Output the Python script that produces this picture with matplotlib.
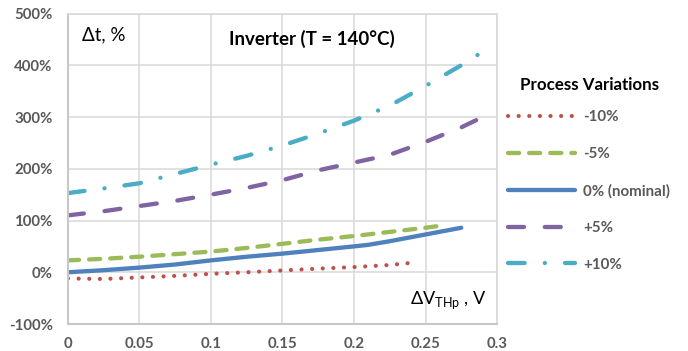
import matplotlib
matplotlib.use("Agg")
import matplotlib.pyplot as plt
from matplotlib.ticker import FuncFormatter

plt.rcParams['font.family'] = ['Lato', 'DejaVu Sans']
plt.rcParams['mathtext.fontset'] = 'custom'
plt.rcParams['mathtext.rm'] = 'Lato'
plt.rcParams['lines.scale_dashes'] = False

# Data (percent vs dVTHp in V)
x_m10 = [0, 0.025, 0.05, 0.075, 0.1, 0.125, 0.15, 0.175, 0.2, 0.225, 0.243]
y_m10 = [-12, -13, -10, -7, -3, 0, 3.5, 7, 10, 14, 19]

x_m5 = [0, 0.025, 0.05, 0.075, 0.1, 0.125, 0.15, 0.175, 0.2, 0.225, 0.25, 0.258]
y_m5 = [23, 26, 30, 35, 40, 47, 55, 63, 70, 78, 86, 89]

x_0 = [0, 0.025, 0.05, 0.075, 0.1, 0.125, 0.15, 0.175, 0.2, 0.21, 0.225, 0.25, 0.275]
y_0 = [0, 4, 9, 15, 23, 30, 36, 43, 50, 53, 60, 73, 86]

x_p5 = [0, 0.025, 0.05, 0.075, 0.1, 0.125, 0.15, 0.175, 0.2, 0.225, 0.25, 0.275, 0.287]
y_p5 = [110, 118, 128, 138, 150, 163, 178, 197, 212, 227, 252, 280, 296]

x_p10 = [0, 0.025, 0.05, 0.075, 0.1, 0.125, 0.15, 0.175, 0.2, 0.225, 0.25, 0.275, 0.291]
y_p10 = [153, 162, 172, 190, 208, 225, 245, 268, 293, 322, 360, 400, 428]

labels = ['-10%', '-5%', '0% (nominal)', '+5%', '+10%']
colors = ['#C0504D', '#9BBB59', '#4F81BD', '#8064A2', '#4BACC6']

xticks = [0, 0.05, 0.1, 0.15, 0.2, 0.25, 0.3]
yticks = [-100, 0, 100, 200, 300, 400, 500]

fig = plt.figure(figsize=(6.88, 3.51), dpi=100)
ax = fig.add_axes([0.0988, 0.0769, 0.6236, 0.8846])

ax.plot(x_m10, y_m10, color=colors[0], lw=3.0, linestyle=(0, (0.05, 7.6)),
        dash_capstyle='round', solid_capstyle='round', label=labels[0])
ax.plot(x_m5, y_m5, color=colors[1], lw=3.1, linestyle=(0, (8.0, 7.2)),
        dash_capstyle='round', label=labels[1])
ax.plot(x_0, y_0, color=colors[2], lw=3.1, linestyle='-',
        solid_capstyle='round', solid_joinstyle='round', label=labels[2])
ax.plot(x_p5, y_p5, color=colors[3], lw=3.1, linestyle=(0, (11.5, 15.0)),
        dash_capstyle='round', label=labels[3])
ax.plot(x_p10, y_p10, color=colors[4], lw=3.1, linestyle=(0, (12.0, 14.5, 0.05, 14.5)),
        dash_capstyle='round', label=labels[4])

ax.set_xlim(0, 0.3)
ax.set_ylim(-100, 500)
ax.set_xticks(xticks)
ax.set_yticks(yticks)
ax.xaxis.set_major_formatter(FuncFormatter(lambda v, p: f"{v:g}"))
ax.yaxis.set_major_formatter(FuncFormatter(lambda v, p: f"{v:.0f}%"))
ax.grid(True, color='#d9d9d9', lw=1.1)
ax.set_axisbelow(True)
for s in ['top', 'right']:
    ax.spines[s].set_color('#d9d9d9')
    ax.spines[s].set_linewidth(1.1)
for s in ['left', 'bottom']:
    ax.spines[s].set_color('#c8c8c8')
    ax.spines[s].set_linewidth(1.5)
ax.tick_params(length=0, labelsize=10.8, labelcolor='#595959')
ax.tick_params(axis='y', pad=11)
ax.tick_params(axis='x', pad=9)
for t in ax.get_xticklabels() + ax.get_yticklabels():
    t.set_fontweight('bold')

ax.text(0.033, 0.93, 'Δt, %', transform=ax.transAxes, fontsize=13.5,
        ha='left', va='center', color='black')
ax.text(0.569, 0.918, 'Inverter (T = 140°C)', transform=ax.transAxes, fontsize=13.5,
        fontweight='bold', ha='center', va='center', color='black')
ax.text(0.797, 0.077, 'ΔV$_{\\rm THp}$ , V', transform=ax.transAxes, fontsize=13,
        ha='left', va='center', color='black')

leg = ax.legend(loc='upper left', bbox_to_anchor=(1.012, 0.815), frameon=False,
                title='Process Variations', fontsize=10.9, handlelength=4.4,
                handletextpad=0.55, labelspacing=1.5, borderaxespad=0)
leg.get_title().set_fontweight('bold')
leg.get_title().set_fontsize(12.2)
for t in leg.get_texts():
    t.set_color('#595959')
    t.set_fontweight('bold')
leg._legend_box.align = 'center'
leg._legend_box.sep = 12.5

fig.savefig('out.png', dpi=100)
